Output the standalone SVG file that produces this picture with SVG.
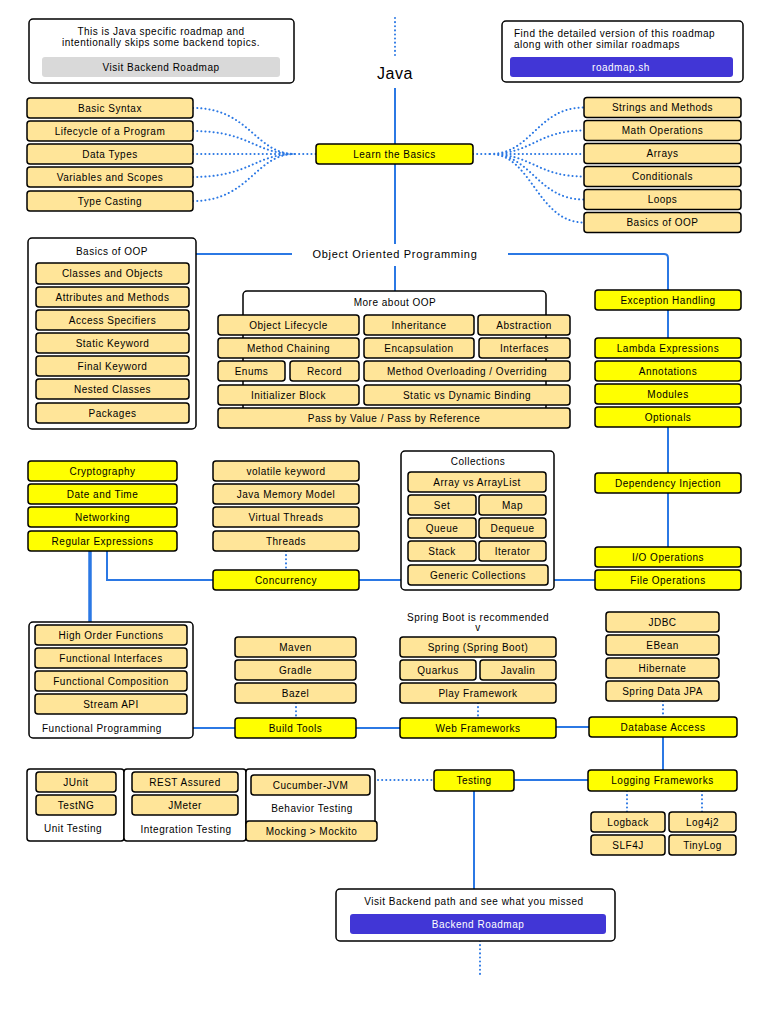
<svg xmlns="http://www.w3.org/2000/svg" width="768" height="1024" viewBox="0 0 768 1024">
<style>
.n{fill:#FFE599;stroke:#000;stroke-width:1.5}
.y{fill:#FFFF00;stroke:#000;stroke-width:1.5}
.b{fill:#fff;stroke:#000;stroke-width:1.5}
text{font-family:"Liberation Sans",Arial,sans-serif;font-size:10px;letter-spacing:0.5px;fill:#000;text-anchor:middle;dominant-baseline:central}
.l{text-anchor:start}
.w{fill:#fff}
.c{fill:none;stroke:#2B78E4;stroke-width:2}
.k{fill:none;stroke:#2B78E4;stroke-width:3.5}
.d{fill:none;stroke:#2B78E4;stroke-width:2;stroke-dasharray:0.1 4;stroke-linecap:round}
</style>
<rect width="768" height="1024" fill="#fff"/>
<g id="connectors">
<path class="d" d="M395,18 V58"/>
<path class="c" d="M395,88 V244 M395,266 V291"/>
<path class="c" d="M196,254 H292 M508,254 H664 Q668,254 668,258 V290"/>
<path class="c" d="M668,310 V338 M668,427 V473 M668,493 V547"/>
<path class="d" d="M193,108 C250,108 255,154 295,154 M193,131 C250,131 255,154 295,154 M193,154 H295 M193,177 C250,177 255,154 295,154 M193,201 C250,201 255,154 295,154 M295,154 H316"/>
<path class="d" d="M473,154 H490 M490,154 C532,154 537,107.5 584,107.5 M490,154 C532,154 537,130.5 584,130.5 M490,154 H584 M490,154 C532,154 537,176.5 584,176.5 M490,154 C532,154 537,199.5 584,199.5 M490,154 C532,154 537,222.5 584,222.5"/>
<path class="k" d="M90,551 V622"/>
<path class="c" d="M107,551 V580 H213 M359,580 H401 M554,580 H595"/>
<path class="d" d="M286,551 V570"/>
<path class="c" d="M193,728 H235 M356,728 H400 M556,727 H589"/>
<path class="d" d="M296,703 V718 M478,703 V718 M663,701 V717"/>
<path class="c" d="M663,737 V770 M514,780 H588 M474,791 V889"/>
<path class="d" d="M378,780 H434 M627,791 V812 M702,791 V812 M480,941 V977"/>
</g>
<g id="note-left">
<rect class="b" x="29" y="19" width="265" height="64" rx="4"/>
<text x="161" y="31">This is Java specific roadmap and</text>
<text x="161" y="42">intentionally skips some backend topics.</text>
<rect x="42" y="57" width="238" height="20" rx="3" fill="#D9D9D9"/>
<text x="161" y="67">Visit Backend Roadmap</text>
</g>
<g id="note-right">
<rect class="b" x="502" y="21" width="241" height="61" rx="4"/>
<text class="l" x="514" y="33">Find the detailed version of this roadmap</text>
<text class="l" x="514" y="44">along with other similar roadmaps</text>
<rect x="510" y="57" width="223" height="20" rx="3" fill="#4136D6"/>
<text class="w" x="621" y="67">roadmap.sh</text>
</g>
<g id="title"><text x="395" y="73" style="font-size:16px">Java</text></g>
<g id="learn-basics"><rect class="y" x="316" y="144" width="157" height="20" rx="3"/><text x="394.5" y="154">Learn the Basics</text></g>
<g id="basics-left">
<rect class="n" x="27" y="98" width="166" height="20" rx="3"/><text x="110" y="108">Basic Syntax</text>
<rect class="n" x="27" y="121" width="166" height="20" rx="3"/><text x="110" y="131">Lifecycle of a Program</text>
<rect class="n" x="27" y="144" width="166" height="20" rx="3"/><text x="110" y="154">Data Types</text>
<rect class="n" x="27" y="167" width="166" height="20" rx="3"/><text x="110" y="177">Variables and Scopes</text>
<rect class="n" x="27" y="191" width="166" height="20" rx="3"/><text x="110" y="201">Type Casting</text>
</g>
<g id="basics-right">
<rect class="n" x="584" y="97.5" width="157" height="20" rx="3"/><text x="662.5" y="107.5">Strings and Methods</text>
<rect class="n" x="584" y="120.5" width="157" height="20" rx="3"/><text x="662.5" y="130.5">Math Operations</text>
<rect class="n" x="584" y="143.5" width="157" height="20" rx="3"/><text x="662.5" y="153.5">Arrays</text>
<rect class="n" x="584" y="166.5" width="157" height="20" rx="3"/><text x="662.5" y="176.5">Conditionals</text>
<rect class="n" x="584" y="189.5" width="157" height="20" rx="3"/><text x="662.5" y="199.5">Loops</text>
<rect class="n" x="584" y="212.5" width="157" height="20" rx="3"/><text x="662.5" y="222.5">Basics of OOP</text>
</g>
<g id="oop"><text x="395" y="254" style="font-size:11px;letter-spacing:0.7px">Object Oriented Programming</text></g>
<g id="basics-oop">
<rect class="b" x="28" y="238" width="168" height="191" rx="4"/>
<text x="112" y="251">Basics of OOP</text>
<rect class="n" x="36" y="263" width="153" height="21" rx="3"/><text x="112.5" y="273.5">Classes and Objects</text>
<rect class="n" x="36" y="287" width="153" height="20" rx="3"/><text x="112.5" y="297">Attributes and Methods</text>
<rect class="n" x="36" y="310" width="153" height="20" rx="3"/><text x="112.5" y="320">Access Specifiers</text>
<rect class="n" x="36" y="333" width="153" height="20" rx="3"/><text x="112.5" y="343">Static Keyword</text>
<rect class="n" x="36" y="356" width="153" height="20" rx="3"/><text x="112.5" y="366">Final Keyword</text>
<rect class="n" x="36" y="379" width="153" height="20" rx="3"/><text x="112.5" y="389">Nested Classes</text>
<rect class="n" x="36" y="403" width="153" height="20" rx="3"/><text x="112.5" y="413">Packages</text>
</g>
<g id="more-oop">
<rect class="b" x="243" y="291" width="303" height="120" rx="4"/>
<text x="395" y="302">More about OOP</text>
<rect class="n" x="218" y="315" width="141" height="20" rx="3"/><text x="288.5" y="325">Object Lifecycle</text>
<rect class="n" x="364" y="315" width="110" height="20" rx="3"/><text x="419" y="325">Inheritance</text>
<rect class="n" x="478" y="315" width="92" height="20" rx="3"/><text x="524" y="325">Abstraction</text>
<rect class="n" x="218" y="338" width="141" height="20" rx="3"/><text x="288.5" y="348">Method Chaining</text>
<rect class="n" x="364" y="338" width="110" height="20" rx="3"/><text x="419" y="348">Encapsulation</text>
<rect class="n" x="479" y="338" width="91" height="20" rx="3"/><text x="524.5" y="348">Interfaces</text>
<rect class="n" x="218" y="361" width="67" height="20" rx="3"/><text x="251.5" y="371">Enums</text>
<rect class="n" x="290" y="361" width="69" height="20" rx="3"/><text x="324.5" y="371">Record</text>
<rect class="n" x="364" y="361" width="206" height="20" rx="3"/><text x="467" y="371">Method Overloading / Overriding</text>
<rect class="n" x="218" y="385" width="141" height="20" rx="3"/><text x="288.5" y="395">Initializer Block</text>
<rect class="n" x="364" y="385" width="206" height="20" rx="3"/><text x="467" y="395">Static vs Dynamic Binding</text>
<rect class="n" x="218" y="408" width="352" height="20" rx="3"/><text x="394" y="418">Pass by Value / Pass by Reference</text>
</g>
<g id="right-column">
<rect class="y" x="595" y="290" width="146" height="20" rx="3"/><text x="668" y="300">Exception Handling</text>
<rect class="y" x="595" y="338" width="146" height="20" rx="3"/><text x="668" y="348">Lambda Expressions</text>
<rect class="y" x="595" y="361" width="146" height="20" rx="3"/><text x="668" y="371">Annotations</text>
<rect class="y" x="595" y="384" width="146" height="20" rx="3"/><text x="668" y="394">Modules</text>
<rect class="y" x="595" y="407" width="146" height="20" rx="3"/><text x="668" y="417">Optionals</text>
<rect class="y" x="595" y="473" width="146" height="20" rx="3"/><text x="668" y="483">Dependency Injection</text>
<rect class="y" x="595" y="547" width="146" height="20" rx="3"/><text x="668" y="557">I/O Operations</text>
<rect class="y" x="595" y="570" width="146" height="20" rx="3"/><text x="668" y="580">File Operations</text>
</g>
<g id="misc">
<rect class="y" x="28" y="461" width="149" height="20" rx="3"/><text x="102.5" y="471">Cryptography</text>
<rect class="y" x="28" y="484" width="149" height="20" rx="3"/><text x="102.5" y="494">Date and Time</text>
<rect class="y" x="28" y="507" width="149" height="20" rx="3"/><text x="102.5" y="517">Networking</text>
<rect class="y" x="28" y="531" width="149" height="20" rx="3"/><text x="102.5" y="541">Regular Expressions</text>
</g>
<g id="concurrency">
<rect class="n" x="213" y="461" width="146" height="20" rx="3"/><text x="286" y="471">volatile keyword</text>
<rect class="n" x="213" y="484" width="146" height="20" rx="3"/><text x="286" y="494">Java Memory Model</text>
<rect class="n" x="213" y="507" width="146" height="20" rx="3"/><text x="286" y="517">Virtual Threads</text>
<rect class="n" x="213" y="531" width="146" height="20" rx="3"/><text x="286" y="541">Threads</text>
<rect class="y" x="213" y="570" width="146" height="20" rx="3"/><text x="286" y="580">Concurrency</text>
</g>
<g id="collections">
<rect class="b" x="401" y="451" width="153" height="139" rx="4"/>
<text x="478" y="461">Collections</text>
<rect class="n" x="408" y="472" width="138" height="20" rx="3"/><text x="477" y="482">Array vs ArrayList</text>
<rect class="n" x="408" y="495" width="68" height="20" rx="3"/><text x="442" y="505">Set</text>
<rect class="n" x="479" y="495" width="67" height="20" rx="3"/><text x="512.5" y="505">Map</text>
<rect class="n" x="408" y="518" width="68" height="20" rx="3"/><text x="442" y="528">Queue</text>
<rect class="n" x="479" y="518" width="67" height="20" rx="3"/><text x="512.5" y="528">Dequeue</text>
<rect class="n" x="408" y="541" width="68" height="20" rx="3"/><text x="442" y="551">Stack</text>
<rect class="n" x="479" y="541" width="67" height="20" rx="3"/><text x="512.5" y="551">Iterator</text>
<rect class="n" x="408" y="565" width="140" height="20" rx="3"/><text x="478" y="575">Generic Collections</text>
</g>
<g id="functional">
<rect class="b" x="29" y="622" width="164" height="116" rx="4"/>
<rect class="n" x="35" y="625" width="152" height="20" rx="3"/><text x="111" y="635">High Order Functions</text>
<rect class="n" x="35" y="648" width="152" height="20" rx="3"/><text x="111" y="658">Functional Interfaces</text>
<rect class="n" x="35" y="671" width="152" height="20" rx="3"/><text x="111" y="681">Functional Composition</text>
<rect class="n" x="35" y="694" width="152" height="20" rx="3"/><text x="111" y="704">Stream API</text>
<text class="l" x="42" y="728">Functional Programming</text>
</g>
<g id="build-tools">
<rect class="n" x="235" y="637" width="121" height="20" rx="3"/><text x="295.5" y="647">Maven</text>
<rect class="n" x="235" y="660" width="121" height="20" rx="3"/><text x="295.5" y="670">Gradle</text>
<rect class="n" x="235" y="683" width="121" height="20" rx="3"/><text x="295.5" y="693">Bazel</text>
<rect class="y" x="235" y="718" width="121" height="20" rx="3"/><text x="295.5" y="728">Build Tools</text>
</g>
<g id="web-frameworks">
<text x="478" y="617">Spring Boot is recommended</text>
<text x="478" y="627">v</text>
<rect class="n" x="400" y="637" width="156" height="20" rx="3"/><text x="478" y="647">Spring (Spring Boot)</text>
<rect class="n" x="400" y="660" width="76" height="20" rx="3"/><text x="438" y="670">Quarkus</text>
<rect class="n" x="480" y="660" width="76" height="20" rx="3"/><text x="518" y="670">Javalin</text>
<rect class="n" x="400" y="683" width="156" height="20" rx="3"/><text x="478" y="693">Play Framework</text>
<rect class="y" x="400" y="718" width="156" height="20" rx="3"/><text x="478" y="728">Web Frameworks</text>
</g>
<g id="database">
<rect class="n" x="606" y="612" width="113" height="20" rx="3"/><text x="662.5" y="622">JDBC</text>
<rect class="n" x="606" y="635" width="113" height="20" rx="3"/><text x="662.5" y="645">EBean</text>
<rect class="n" x="606" y="658" width="113" height="20" rx="3"/><text x="662.5" y="668">Hibernate</text>
<rect class="n" x="606" y="681" width="113" height="20" rx="3"/><text x="662.5" y="691">Spring Data JPA</text>
<rect class="y" x="589" y="717" width="148" height="20" rx="3"/><text x="663" y="727">Database Access</text>
</g>
<g id="testing">
<rect class="b" x="27" y="769" width="97" height="72" rx="3"/>
<rect class="n" x="36" y="772" width="80" height="20" rx="3"/><text x="76" y="782">JUnit</text>
<rect class="n" x="36" y="795" width="80" height="20" rx="3"/><text x="76" y="805">TestNG</text>
<text x="73" y="828">Unit Testing</text>
<rect class="b" x="124" y="769" width="122" height="72" rx="3"/>
<rect class="n" x="132" y="772" width="106" height="20" rx="3"/><text x="185" y="782">REST Assured</text>
<rect class="n" x="132" y="795" width="106" height="20" rx="3"/><text x="185" y="805">JMeter</text>
<text x="186" y="829">Integration Testing</text>
<rect class="b" x="246" y="769" width="129" height="60" rx="3"/>
<rect class="n" x="251" y="775" width="119" height="20" rx="3"/><text x="310.5" y="785">Cucumber-JVM</text>
<text x="312" y="808">Behavior Testing</text>
<rect class="n" x="246" y="821" width="131" height="20" rx="3"/><text x="311.5" y="831">Mocking &gt; Mockito</text>
<rect class="y" x="434" y="770" width="80" height="21" rx="3"/><text x="474" y="780.5">Testing</text>
</g>
<g id="logging">
<rect class="y" x="588" y="770" width="149" height="21" rx="3"/><text x="662.5" y="780.5">Logging Frameworks</text>
<rect class="n" x="591" y="812" width="74" height="20" rx="3"/><text x="628" y="822">Logback</text>
<rect class="n" x="669" y="812" width="67" height="20" rx="3"/><text x="702.5" y="822">Log4j2</text>
<rect class="n" x="591" y="835" width="74" height="20" rx="3"/><text x="628" y="845">SLF4J</text>
<rect class="n" x="669" y="835" width="67" height="20" rx="3"/><text x="702.5" y="845">TinyLog</text>
</g>
<g id="note-bottom">
<rect class="b" x="336" y="889" width="279" height="52" rx="4"/>
<text x="474" y="901">Visit Backend path and see what you missed</text>
<rect x="350" y="914" width="256" height="20" rx="3" fill="#4136D6"/>
<text class="w" x="478" y="924">Backend Roadmap</text>
</g>
</svg>
